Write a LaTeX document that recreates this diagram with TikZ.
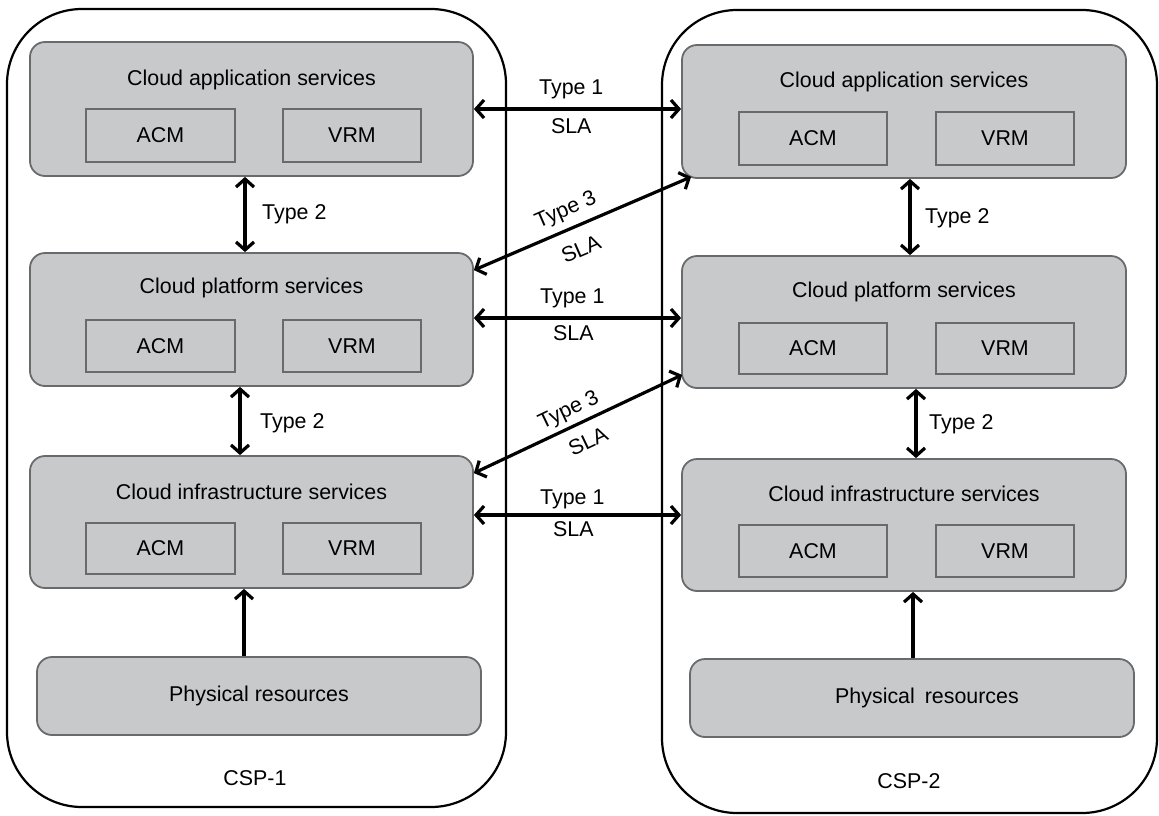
\documentclass[tikz,border=0pt]{standalone}
\usepackage{fontspec}
\setmainfont{Liberation Sans}
\usetikzlibrary{arrows.meta,calc}
\definecolor{boxgray}{RGB}{200,201,203}
\definecolor{edgegray}{RGB}{105,106,108}
\begin{document}
\begin{tikzpicture}[x=1pt,y=-1pt,
  every node/.style={font=\fontsize{21.4}{25}\selectfont, inner sep=0pt},
  container/.style={draw=black, line width=2.2pt, rounded corners=75pt},
  layer/.style={draw=edgegray, fill=boxgray, line width=1.8pt, rounded corners=15pt},
  mgr/.style={draw=edgegray, fill=boxgray, line width=1.8pt},
  tip/.tip={Straight Barb[length=8pt,width=18pt]},
  arr/.style={line width=3.2pt, tip-tip},
  uarr/.style={line width=3.2pt, -tip}]
\useasboundingbox (0,0) rectangle (1159,815);

% providers
\node[container, minimum width=499pt, minimum height=798pt] (csp1) at (256.5,408) {};
\node[container, minimum width=495pt, minimum height=803pt] (csp2) at (909.5,411.5) {};
\node (csp1lbl) at (255,778) {CSP-1};
\node (csp2lbl) at (909,781) {CSP-2};

% ---------- left provider ----------
\node[layer, minimum width=443pt, minimum height=134pt] (LApp) at (251.5,109) {};
\node (LAppT) at (251.5,80) {Cloud application services};
\node[mgr, minimum width=149pt, minimum height=53pt] (LAppA) at (160.5,135.5) {ACM};
\node[mgr, minimum width=138pt, minimum height=53pt] (LAppV) at (352,135.5) {VRM};

\node[layer, minimum width=443pt, minimum height=133pt] (LPlat) at (251.5,319.5) {};
\node (LPlatT) at (251.5,288) {Cloud platform services};
\node[mgr, minimum width=149pt, minimum height=52pt] (LPlatA) at (160.5,346) {ACM};
\node[mgr, minimum width=138pt, minimum height=52pt] (LPlatV) at (352,346) {VRM};

\node[layer, minimum width=443pt, minimum height=132pt] (LInf) at (251.5,522) {};
\node (LInfT) at (251.5,492) {Cloud infrastructure services};
\node[mgr, minimum width=149pt, minimum height=51pt] (LInfA) at (160.5,548.5) {ACM};
\node[mgr, minimum width=138pt, minimum height=51pt] (LInfV) at (352,548.5) {VRM};

\node[layer, minimum width=444pt, minimum height=78pt] (LPhys) at (259,696) {Physical resources};

% ---------- right provider ----------
\node[layer, minimum width=444pt, minimum height=133pt] (RApp) at (904,111.5) {};
\node (RAppT) at (904,82) {Cloud application services};
\node[mgr, minimum width=148pt, minimum height=53pt] (RAppA) at (813,138.5) {ACM};
\node[mgr, minimum width=138pt, minimum height=53pt] (RAppV) at (1005,138.5) {VRM};

\node[layer, minimum width=444pt, minimum height=132pt] (RPlat) at (904,322) {};
\node (RPlatT) at (904,292) {Cloud platform services};
\node[mgr, minimum width=148pt, minimum height=51pt] (RPlatA) at (813,348.5) {ACM};
\node[mgr, minimum width=138pt, minimum height=51pt] (RPlatV) at (1005,348.5) {VRM};

\node[layer, minimum width=444pt, minimum height=132pt] (RInf) at (904,525) {};
\node (RInfT) at (904,494) {Cloud infrastructure services};
\node[mgr, minimum width=148pt, minimum height=52pt] (RInfA) at (813,551) {ACM};
\node[mgr, minimum width=138pt, minimum height=52pt] (RInfV) at (1005,551) {VRM};

\node[layer, minimum width=444pt, minimum height=78pt] (RPhys) at (912,698) {\hspace*{30pt}Physical\hspace{4pt} resources};

% ---------- vertical (Type 2) ----------
\draw[arr] ($(LApp.south)+(-6.5,0)$) -- ($(LPlat.north)+(-6.5,0)$);
\node[anchor=west] (lt2a) at (262,214) {Type 2};
\draw[arr] ($(LPlat.south)+(-11.5,0)$) -- ($(LInf.north)+(-11.5,0)$);
\node[anchor=west] (lt2b) at (260,423) {Type 2};
\draw[uarr] ($(LPhys.north)+(-15,0)$) -- ($(LInf.south)+(-7.5,0)$);

\draw[arr] ($(RApp.south)+(6,0)$) -- ($(RPlat.north)+(6,0)$);
\node[anchor=west] (rt2a) at (925,218) {Type 2};
\draw[arr] ($(RPlat.south)+(12,0)$) -- ($(RInf.north)+(12,0)$);
\node[anchor=west] (rt2b) at (929,424) {Type 2};
\draw[uarr] ($(RPhys.north)+(1,0)$) -- ($(RInf.south)+(9,0)$);

% ---------- horizontal (Type 1) ----------
\draw[arr] (LApp.east) -- (LApp.east -| RApp.west)
  node[pos=0.47, yshift=20pt] (t1a) {Type 1}
  node[pos=0.47, yshift=-17pt] (s1a) {SLA};
\draw[arr] ($(LPlat.east)+(0,-1.5)$) -- ($(LPlat.east -| RPlat.west)+(0,-1.5)$)
  node[pos=0.475, yshift=20pt] (t1b) {Type 1}
  node[pos=0.48, yshift=-15pt] (s1b) {SLA};
\draw[arr] ($(LInf.east)+(0,-7)$) -- ($(LInf.east -| RInf.west)+(0,-7)$)
  node[pos=0.475, yshift=16pt] (t1c) {Type 1}
  node[pos=0.48, yshift=-14pt] (s1c) {SLA};

% ---------- diagonal (Type 3) ----------
\draw[arr] ($(LPlat.north east)+(0,18)$) -- ($(RApp.south west)+(10,-2)$);
\node[rotate=23.4] (t3a) at (566,211) {Type 3};
\node[rotate=23.4] (s3a) at (581,249) {SLA};
\draw[arr] ($(LInf.north east)+(0,18)$) -- ($(RPlat.south west)+(1,-14)$);
\node[rotate=25.5] (t3b) at (569,411) {Type 3};
\node[rotate=25.5] (s3b) at (588,441) {SLA};
\end{tikzpicture}
\end{document}
